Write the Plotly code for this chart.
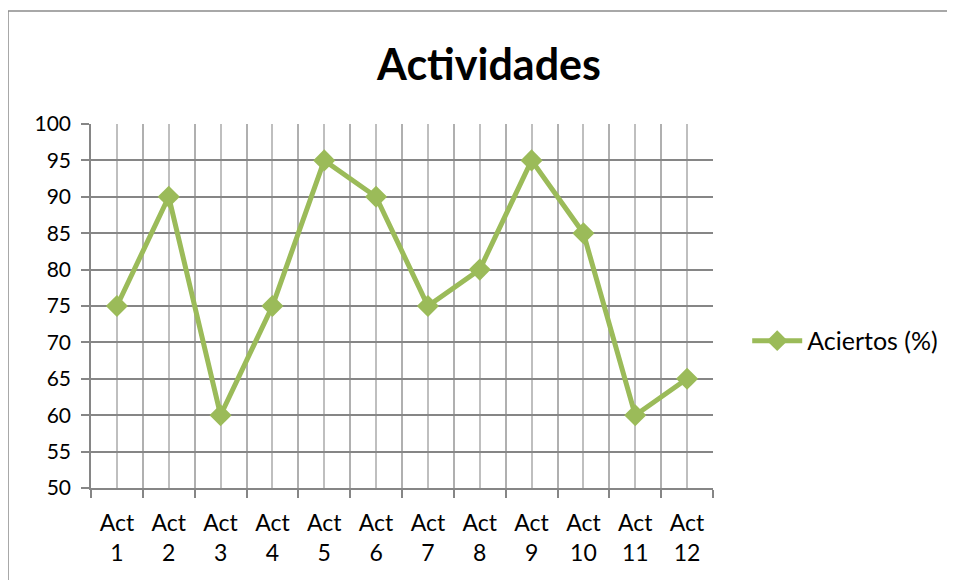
import plotly.graph_objects as go

# Datos del gráfico
actividades = ['Act<br>1', 'Act<br>2', 'Act<br>3', 'Act<br>4', 'Act<br>5', 'Act<br>6',
               'Act<br>7', 'Act<br>8', 'Act<br>9', 'Act<br>10', 'Act<br>11', 'Act<br>12']
aciertos = [75, 90, 60, 75, 95, 90, 75, 80, 95, 85, 60, 65]
y_ticks = [50, 55, 60, 65, 70, 75, 80, 85, 90, 95, 100]

verde = '#9BBB59'
fuente = 'Lato, Open Sans, sans-serif'

posiciones = list(range(len(actividades)))

# La página tiene un margen de 8 px; la figura se ajusta a eso
W, H = 947, 572
L, T, PW, PH = 83, 116, 622, 364

fig = go.Figure()
fig.add_trace(go.Scatter(
    x=posiciones,
    y=aciertos,
    mode='lines+markers',
    name='Aciertos (%)',
    line=dict(color=verde, width=5),
    marker=dict(symbol='diamond', size=17, color=verde),
))

fig.update_layout(
    width=W,
    height=H,
    paper_bgcolor='white',
    plot_bgcolor='white',
    margin={'l': L, 'r': W - L - PW, 't': T, 'b': H - T - PH},
    font=dict(family=fuente, size=22, color='black'),
    title=dict(text='<b>Actividades</b>', x=481 / W, xanchor='center',
               y=1 - 57 / H, yanchor='middle',
               font=dict(family=fuente, size=43, color='black')),
    showlegend=True,
    legend=dict(x=1.055, xanchor='left', y=0.404, yanchor='middle',
                font=dict(family=fuente, size=25, color='black'),
                itemwidth=50, bgcolor='rgba(0,0,0,0)'),
)

# Eje X: etiquetas en el centro, cuadrícula en centros y bordes
fig.update_xaxes(
    range=[-0.5, len(actividades) - 0.5],
    tickmode='array',
    tickvals=posiciones,
    ticktext=actividades,
    ticks='',
    tickfont=dict(size=23),
    showgrid=True,
    gridcolor='#BFBFBF',
    gridwidth=1.5,
    showline=True,
    linecolor='#868686',
    linewidth=1.5,
    zeroline=False,
    minor=dict(tick0=-0.5, dtick=1, showgrid=True, gridcolor='#B0B0B0',
               gridwidth=1.5, ticks='outside', ticklen=8, tickcolor='#868686',
               tickwidth=1.5),
    ticklabelstandoff=14,
    fixedrange=True,
)

# Eje Y
fig.update_yaxes(
    range=[50, 100],
    tickmode='array',
    tickvals=y_ticks,
    ticks='outside',
    ticklen=8,
    tickcolor='#868686',
    tickwidth=1.5,
    tickfont=dict(size=21),
    showgrid=True,
    gridcolor='#868686',
    gridwidth=1.5,
    showline=True,
    linecolor='#868686',
    linewidth=1.5,
    zeroline=False,
    ticklabelstandoff=6,
    fixedrange=True,
)

# Borde exterior del gráfico
fig.add_shape(type='rect', xref='paper', yref='paper',
              x0=(0 - L) / PW, x1=(980 - L) / PW,
              y0=(T + PH - 620) / PH, y1=(T + PH - 3) / PH,
              line=dict(color='#8C8C8C', width=1.5), layer='below')

fig.write_html('out.html')
